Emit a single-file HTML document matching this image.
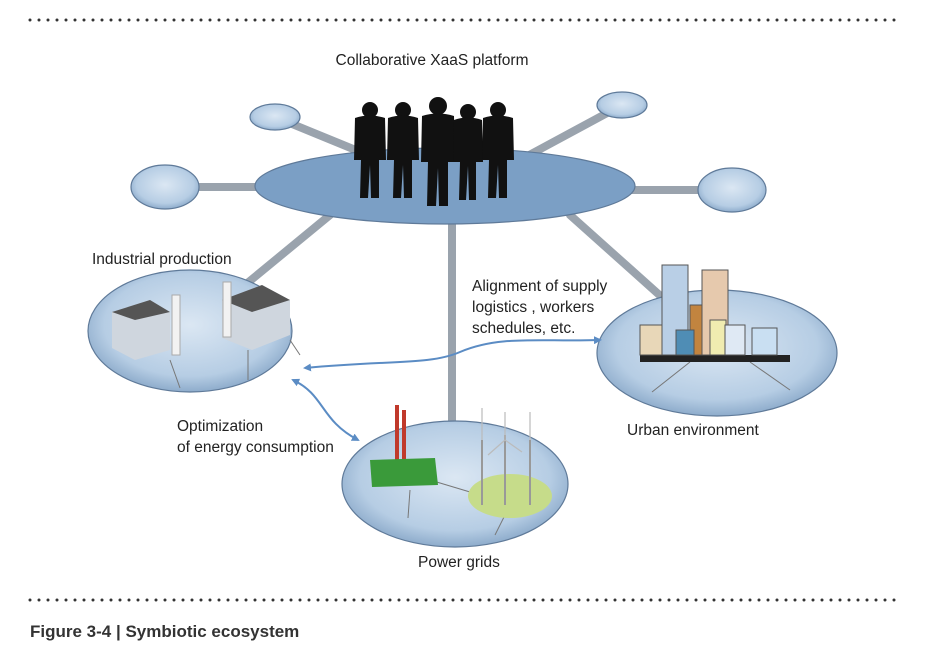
<!DOCTYPE html>
<html><head><meta charset="utf-8"><style>
html,body{margin:0;padding:0;background:#fff;}
svg{display:block;}
text{font-family:"Liberation Sans",sans-serif;fill:#222;}
</style></head><body>
<svg width="939" height="661" viewBox="0 0 939 661" xmlns="http://www.w3.org/2000/svg">
<defs>
<radialGradient id="g1" cx="50%" cy="45%" r="60%">
<stop offset="0" stop-color="#dbe7f3"/><stop offset="0.7" stop-color="#b6cde4"/><stop offset="1" stop-color="#7e9fc2"/>
</radialGradient>
<marker id="ah" markerWidth="8" markerHeight="8" refX="6" refY="4" orient="auto-start-reverse" markerUnits="userSpaceOnUse">
<path d="M0,0 L8,4 L0,8 z" fill="#5b8cc4"/>
</marker>
</defs>
<line x1="30" y1="20" x2="896" y2="20" stroke="#333" stroke-width="3" stroke-dasharray="0 9" stroke-linecap="round"/>
<line x1="30" y1="600" x2="896" y2="600" stroke="#333" stroke-width="3" stroke-dasharray="0 9" stroke-linecap="round"/>
<text x="432" y="65" font-size="15.5" text-anchor="middle">Collaborative XaaS platform</text>

<g stroke="#9aa3ad" stroke-width="8" stroke-linecap="round">
<line x1="275" y1="117" x2="380" y2="160"/>
<line x1="622" y1="105" x2="520" y2="160"/>
<line x1="165" y1="187" x2="270" y2="187"/>
<line x1="732" y1="190" x2="620" y2="190"/>
<line x1="330" y1="215" x2="245" y2="285"/>
<line x1="452" y1="215" x2="452" y2="425"/>
<line x1="570" y1="215" x2="665" y2="300"/>
</g>
<g stroke="#5f7a99" stroke-width="1.2">
<ellipse cx="275" cy="117" rx="25" ry="13" fill="url(#g1)"/>
<ellipse cx="622" cy="105" rx="25" ry="13" fill="url(#g1)"/>
<ellipse cx="165" cy="187" rx="34" ry="22" fill="url(#g1)"/>
<ellipse cx="732" cy="190" rx="34" ry="22" fill="url(#g1)"/>
<ellipse cx="445" cy="186" rx="190" ry="38" fill="#7b9fc5"/>
<ellipse cx="190" cy="331" rx="102" ry="61" fill="url(#g1)"/>
<ellipse cx="717" cy="353" rx="120" ry="63" fill="url(#g1)"/>
<ellipse cx="455" cy="484" rx="113" ry="63" fill="url(#g1)"/>
</g>

<!-- people -->
<g fill="#111">
<g transform="translate(370,0)"><circle cx="0" cy="110" r="8"/><path d="M-15,118 Q0,113 15,118 L16,160 L9,160 L9,198 L1,198 L0,165 L-2,198 L-10,198 L-9,160 L-16,160 Z"/></g>
<g transform="translate(403,0)"><circle cx="0" cy="110" r="8"/><path d="M-15,118 Q0,113 15,118 L16,160 L9,160 L9,198 L1,198 L0,165 L-2,198 L-10,198 L-9,160 L-16,160 Z"/></g>
<g transform="translate(438,0)"><circle cx="0" cy="106" r="9"/><path d="M-16,116 Q0,111 16,116 L17,162 L10,162 L10,206 L1,206 L0,168 L-2,206 L-11,206 L-10,162 L-17,162 Z"/></g>
<g transform="translate(468,0)"><circle cx="0" cy="112" r="8"/><path d="M-14,120 Q0,115 14,120 L15,162 L8,162 L8,200 L1,200 L0,166 L-2,200 L-9,200 L-8,162 L-15,162 Z"/></g>
<g transform="translate(498,0)"><circle cx="0" cy="110" r="8"/><path d="M-15,118 Q0,113 15,118 L16,160 L9,160 L9,198 L1,198 L0,165 L-2,198 L-10,198 L-9,160 L-16,160 Z"/></g>
</g>

<g stroke="#777" stroke-width="1" fill="none">
<line x1="170" y1="360" x2="180" y2="388"/><line x1="248" y1="350" x2="248" y2="380"/><line x1="290" y1="340" x2="300" y2="355"/>
<line x1="690" y1="362" x2="652" y2="392"/><line x1="750" y1="362" x2="790" y2="390"/>
<line x1="410" y1="490" x2="408" y2="518"/><line x1="430" y1="480" x2="490" y2="498"/><line x1="505" y1="515" x2="495" y2="535"/>
</g>
<g>
<path d="M112,312 L150,300 L170,312 L170,350 L135,360 L112,348 Z" fill="#cfd6de"/>
<path d="M112,312 L150,300 L170,312 L135,320 Z" fill="#555"/>
<rect x="172" y="295" width="8" height="60" fill="#f2f2f2" stroke="#aaa"/>
<path d="M222,300 L262,285 L290,300 L290,335 L252,350 L222,338 Z" fill="#cfd6de"/>
<path d="M222,300 L262,285 L290,300 L252,312 Z" fill="#555"/>
<rect x="223" y="282" width="8" height="55" fill="#f2f2f2" stroke="#aaa"/>
</g>
<g>
<rect x="640" y="355" width="150" height="7" fill="#222"/>
<rect x="640" y="325" width="25" height="30" fill="#e8d7b8" stroke="#555"/>
<rect x="662" y="265" width="26" height="90" fill="#b9cfe6" stroke="#555"/>
<rect x="702" y="270" width="26" height="85" fill="#e6c9ad" stroke="#555"/>
<rect x="690" y="305" width="12" height="50" fill="#c2843f" stroke="#555"/>
<rect x="676" y="330" width="18" height="25" fill="#4f8db5" stroke="#555"/>
<rect x="710" y="320" width="16" height="35" fill="#f0ecb0" stroke="#555"/>
<rect x="725" y="325" width="20" height="30" fill="#dfe9f4" stroke="#555"/>
<rect x="752" y="328" width="25" height="27" fill="#c9dff2" stroke="#555"/>
</g>
<g>
<rect x="395" y="405" width="4" height="55" fill="#c0392b"/><rect x="402" y="410" width="4" height="50" fill="#c0392b"/>
<path d="M370,460 L435,458 L438,485 L372,487 Z" fill="#3a9a3a"/>
<ellipse cx="510" cy="496" rx="42" ry="22" fill="#c6dc8a"/>
<g stroke="#999" stroke-width="2"><line x1="482" y1="440" x2="482" y2="505"/><line x1="505" y1="435" x2="505" y2="505"/><line x1="530" y1="440" x2="530" y2="505"/></g>
<g stroke="#bbb" stroke-width="1.2"><line x1="505" y1="440" x2="505" y2="412"/><line x1="505" y1="440" x2="488" y2="455"/><line x1="505" y1="440" x2="522" y2="452"/>
<line x1="482" y1="440" x2="482" y2="408"/><line x1="530" y1="440" x2="530" y2="412"/></g>
</g>

<path d="M305,368 C390,360 430,365 460,352 C500,335 540,342 600,340" fill="none" stroke="#5b8cc4" stroke-width="2" marker-start="url(#ah)" marker-end="url(#ah)"/>
<path d="M293,380 C325,395 320,420 358,440" fill="none" stroke="#5b8cc4" stroke-width="2" marker-start="url(#ah)" marker-end="url(#ah)"/>

<g font-size="15.5">
<text x="92" y="264">Industrial  production</text>
<text x="472" y="291">Alignment of supply</text>
<text x="472" y="312">logistics , workers</text>
<text x="472" y="333">schedules, etc.</text>
<text x="627" y="435">Urban environment</text>
<text x="177" y="431">Optimization</text>
<text x="177" y="452">of energy consumption</text>
<text x="418" y="567">Power grids</text>
</g>
<text x="30" y="637" font-size="17" font-weight="bold" style="fill:#333">Figure 3-4 | Symbiotic ecosystem</text>
</svg>
</body></html>
